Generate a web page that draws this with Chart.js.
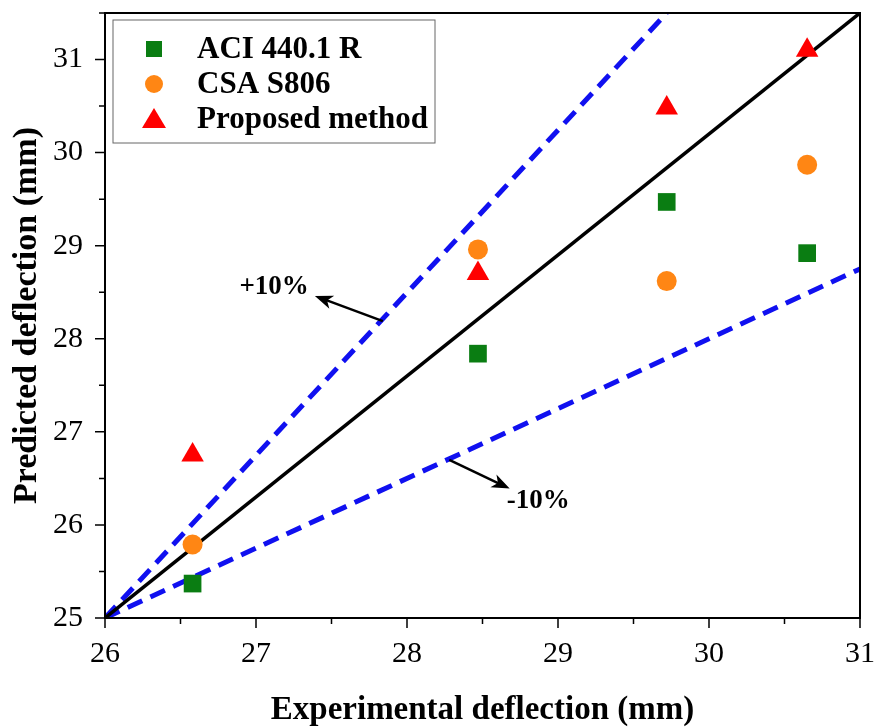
<!DOCTYPE html>
<html>
<head>
<meta charset="utf-8">
<script src="https://cdn.jsdelivr.net/npm/chart.js@4"></script>
<style>
  html, body { margin: 0; padding: 0; background: #fff; }
  #wrap { width: 875px; height: 727px; }
</style>
</head>
<body>
<div id="wrap"><canvas id="chart" width="875" height="727"></canvas></div>
<script>
// Deflection comparison: predicted vs experimental
const experimental = [26.58, 28.47, 29.72, 30.65];
const aciValues = [25.37, 27.84, 29.47, 28.92];
const csaValues = [25.79, 28.96, 28.62, 29.87];
const proposedValues = [26.75, 28.70, 30.48, 31.10];

const seriesNames = ['ACI 440.1 R', 'CSA S806', 'Proposed method'];
const xTicks = [26, 27, 28, 29, 30, 31];
const yTicks = [25, 26, 27, 28, 29, 30, 31];

// reference lines (start / end points)
const equalityLine = [[26, 25], [31, 31.5]];
const plusTenLine = [[26, 25], [29.72, 31.5]];
const minusTenLine = [[26, 25], [31, 28.75]];

const FONT = '"Liberation Serif", "Times New Roman", serif';

const toPoints = (xs, ys) => xs.map((x, i) => ({ x: x, y: ys[i] }));
const linePoints = pts => pts.map(p => ({ x: p[0], y: p[1] }));

// keep the plot box fixed, no extra room for edge labels
const noPad = s => { s.paddingTop = 0; s.paddingBottom = 0; s.paddingLeft = 0; s.paddingRight = 0; };

// Draws frame, ticks (major + minor), the in-plot legend and the +/-10% arrows
const decorPlugin = {
  id: 'decor',
  afterDraw(chart) {
    const ctx = chart.ctx;
    const a = chart.chartArea;
    const xs = chart.scales.x, ys = chart.scales.y;
    ctx.save();
    ctx.strokeStyle = '#000';
    ctx.lineWidth = 2;
    ctx.strokeRect(a.left, a.top, a.right - a.left, a.bottom - a.top);

    // ticks
    ctx.lineWidth = 1.5;
    ctx.beginPath();
    for (let v = 26; v <= 31.001; v += 0.5) {
      const px = xs.getPixelForValue(v);
      const len = Number.isInteger(v) ? 10 : 6;
      ctx.moveTo(px, a.bottom);
      ctx.lineTo(px, a.bottom + len);
    }
    for (let v = 25; v <= 31.5; v += 0.5) {
      const py = ys.getPixelForValue(v);
      const len = Number.isInteger(v) ? 10 : 6;
      ctx.moveTo(a.left, py);
      ctx.lineTo(a.left - len, py);
    }
    ctx.stroke();

    // legend box
    const lx = a.left + 8, ly = a.top + 7, lw = 322, lh = 123;
    ctx.fillStyle = '#fff';
    ctx.fillRect(lx, ly, lw, lh);
    ctx.strokeStyle = '#666';
    ctx.lineWidth = 1;
    ctx.strokeRect(lx, ly, lw, lh);
    ctx.font = 'bold 31px ' + FONT;
    ctx.textBaseline = 'middle';
    chart.data.datasets.filter(d => d.inLegend).forEach((d, i) => {
      const cy = ly + 29 + i * 35;
      const cx = lx + 41;
      ctx.fillStyle = d.backgroundColor;
      ctx.beginPath();
      if (d.pointStyle === 'rect') {
        ctx.rect(cx - 8, cy - 8, 16, 16);
      } else if (d.pointStyle === 'circle') {
        ctx.arc(cx, cy, 9, 0, Math.PI * 2);
      } else {
        ctx.moveTo(cx, cy - 11);
        ctx.lineTo(cx + 12, cy + 9);
        ctx.lineTo(cx - 12, cy + 9);
        ctx.closePath();
      }
      ctx.fill();
      ctx.fillStyle = '#000';
      ctx.textAlign = 'left';
      ctx.fillText(d.label, lx + 84, cy + 1);
    });

    // arrow annotations
    const arrow = (x1, y1, x2, y2) => {
      const p1 = [xs.getPixelForValue(x1), ys.getPixelForValue(y1)];
      const p2 = [xs.getPixelForValue(x2), ys.getPixelForValue(y2)];
      const c = Math.cos(Math.atan2(p2[1] - p1[1], p2[0] - p1[0]));
      const s = Math.sin(Math.atan2(p2[1] - p1[1], p2[0] - p1[0]));
      ctx.strokeStyle = '#000';
      ctx.fillStyle = '#000';
      ctx.lineWidth = 2.5;
      ctx.beginPath();
      ctx.moveTo(p1[0], p1[1]);
      ctx.lineTo(p2[0] - 10 * c, p2[1] - 10 * s);
      ctx.stroke();
      ctx.beginPath();
      ctx.moveTo(p2[0], p2[1]);
      ctx.lineTo(p2[0] - 18 * c + 7 * s, p2[1] - 18 * s - 7 * c);
      ctx.lineTo(p2[0] - 13 * c, p2[1] - 13 * s);
      ctx.lineTo(p2[0] - 18 * c - 7 * s, p2[1] - 18 * s + 7 * c);
      ctx.closePath();
      ctx.fill();
    };
    arrow(27.84, 28.19, 27.39, 28.46);
    arrow(28.28, 26.70, 28.68, 26.39);

    ctx.font = 'bold 27px ' + FONT;
    ctx.fillStyle = '#000';
    ctx.textAlign = 'center';
    ctx.textBaseline = 'middle';
    ctx.fillText('+10%', xs.getPixelForValue(27.12), ys.getPixelForValue(28.56));
    ctx.fillText('-10%', xs.getPixelForValue(28.87), ys.getPixelForValue(26.26));
    ctx.restore();
  }
};

new Chart(document.getElementById('chart'), {
  type: 'scatter',
  data: {
    datasets: [
      {
        type: 'line', label: '+10%', data: linePoints(plusTenLine),
        borderColor: '#1010f0', borderWidth: 5, borderDash: [16, 9],
        pointRadius: 0, fill: false, order: 5
      },
      {
        type: 'line', label: '-10%', data: linePoints(minusTenLine),
        borderColor: '#1010f0', borderWidth: 5, borderDash: [16, 9],
        pointRadius: 0, fill: false, order: 5
      },
      {
        type: 'line', label: 'Equality', data: linePoints(equalityLine),
        borderColor: '#000', borderWidth: 3.5,
        pointRadius: 0, fill: false, order: 4
      },
      {
        label: seriesNames[0], inLegend: true, data: toPoints(experimental, aciValues),
        pointStyle: 'rect', pointRadius: 12.5, backgroundColor: '#0a7d12',
        borderColor: '#0a7d12', borderWidth: 0, order: 1
      },
      {
        label: seriesNames[1], inLegend: true, data: toPoints(experimental, csaValues),
        pointStyle: 'circle', pointRadius: 10, backgroundColor: '#ff8614',
        borderColor: '#ff8614', borderWidth: 0, order: 1
      },
      {
        label: seriesNames[2], inLegend: true, data: toPoints(experimental, proposedValues),
        pointStyle: 'triangle', pointRadius: 13, backgroundColor: '#ff0000',
        borderColor: '#ff0000', borderWidth: 0, order: 1
      }
    ]
  },
  options: {
    responsive: false,
    animation: false,
    layout: { padding: { top: 8, right: 15, left: 0, bottom: 0 } },
    plugins: { legend: { display: false }, tooltip: { enabled: false } },
    scales: {
      x: {
        type: 'linear', min: 26, max: 31,
        afterBuildTicks: s => { s.ticks = xTicks.map(v => ({ value: v })); },
        afterFit: s => { s.height = 109; noPad(s); },
        grid: { display: false },
        border: { display: false },
        ticks: { color: '#000', font: { family: FONT, size: 30 }, padding: 10 },
        title: {
          display: true, text: 'Experimental deflection (mm)', color: '#000',
          font: { family: FONT, size: 33, weight: 'bold', lineHeight: 1 }, padding: { top: 0, bottom: 0 }
        }
      },
      y: {
        type: 'linear', min: 25, max: 31.5,
        afterBuildTicks: s => { s.ticks = yTicks.map(v => ({ value: v })); },
        afterFit: s => { s.width = 105; noPad(s); },
        grid: { display: false },
        border: { display: false },
        ticks: { color: '#000', font: { family: FONT, size: 30 }, padding: 14 },
        title: {
          display: true, text: 'Predicted deflection (mm)', color: '#000',
          font: { family: FONT, size: 34, weight: 'bold', lineHeight: 1 }, padding: { top: 10, bottom: 0 }
        }
      }
    }
  },
  plugins: [decorPlugin]
});
</script>
</body>
</html>
